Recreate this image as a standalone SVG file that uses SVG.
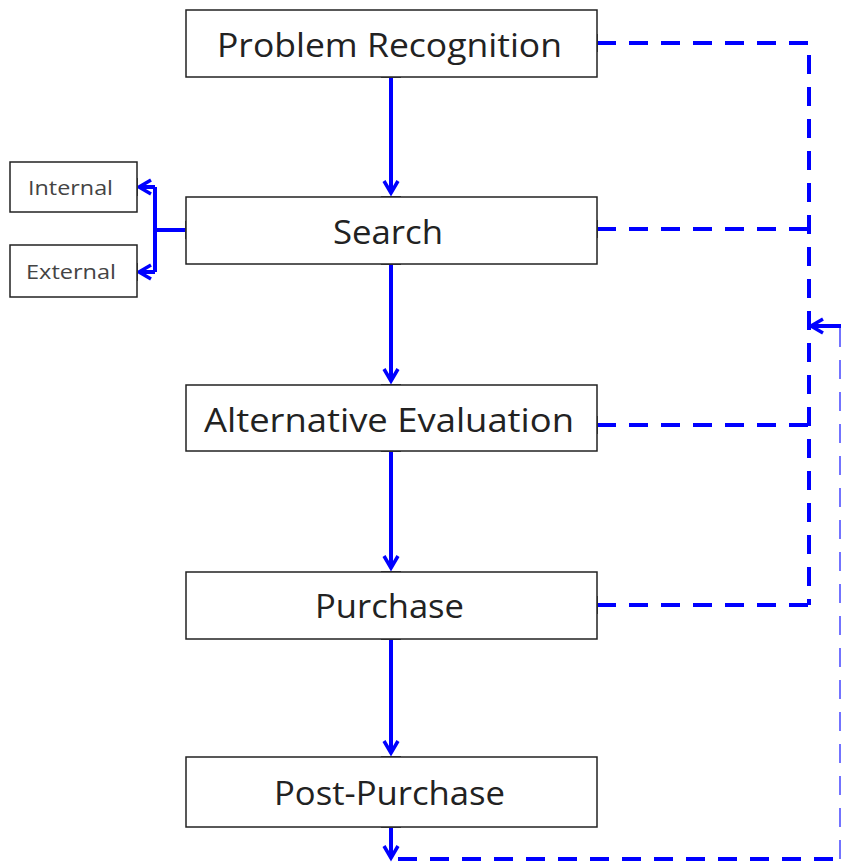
<svg xmlns="http://www.w3.org/2000/svg" width="841" height="864" viewBox="0 0 841 864">
<style>
.box{fill:#fff;stroke:#222;stroke-width:1.5}
.t{font-family:"Open Sans","Liberation Sans",sans-serif;font-size:32px;fill:#222}
.ts{font-family:"Open Sans","Liberation Sans",sans-serif;font-size:20px;fill:#444}
.c{fill:none;stroke:#0000ff;stroke-width:4}
.d{fill:none;stroke:#0000ff;stroke-width:4;stroke-dasharray:19 13}
.tick{stroke:#555;stroke-width:2}
</style>
<defs>
<marker id="ah" markerUnits="userSpaceOnUse" markerWidth="18" markerHeight="18" viewBox="0 0 18 18" refX="14" refY="9" orient="auto">
<path d="M2,2 L14,9 L2,16" fill="none" stroke="#0000ff" stroke-width="3.5"/>
</marker>
</defs>
<rect width="841" height="864" fill="#fff"/>
<g id="connectors">
<line class="c" x1="391" y1="77" x2="391" y2="193" marker-end="url(#ah)"/>
<line class="c" x1="391" y1="264" x2="391" y2="381" marker-end="url(#ah)"/>
<line class="c" x1="391" y1="451" x2="391" y2="568" marker-end="url(#ah)"/>
<line class="c" x1="391" y1="639" x2="391" y2="753" marker-end="url(#ah)"/>
<line class="c" x1="391" y1="827" x2="391" y2="858" marker-end="url(#ah)"/>
<path class="c" d="M186,230 L155,230 M155,187 L155,272"/>
<line class="c" x1="155" y1="187" x2="139" y2="187" marker-end="url(#ah)"/>
<line class="c" x1="155" y1="272" x2="139" y2="272" marker-end="url(#ah)"/>
<path class="d" d="M597,43 L809,43 L809,605"/>
<line class="d" x1="597" y1="229" x2="809" y2="229"/>
<line class="d" x1="597" y1="425" x2="809" y2="425"/>
<line class="d" x1="597" y1="605" x2="811" y2="605"/>
<line class="d" x1="398" y1="859" x2="841" y2="859"/>
<line class="d" x1="841" y1="859" x2="841" y2="326" stroke-opacity="0.55"/>
<line class="c" x1="841" y1="326" x2="811" y2="326" marker-end="url(#ah)"/>
<g class="tick">
<line x1="381" y1="77" x2="401" y2="77"/>
<line x1="381" y1="197" x2="401" y2="197"/>
<line x1="381" y1="264" x2="401" y2="264"/>
<line x1="381" y1="385" x2="401" y2="385"/>
<line x1="381" y1="451" x2="401" y2="451"/>
<line x1="381" y1="572" x2="401" y2="572"/>
<line x1="381" y1="639" x2="401" y2="639"/>
<line x1="381" y1="757" x2="401" y2="757"/>
<line x1="381" y1="827" x2="401" y2="827"/>
<line x1="597" y1="34" x2="597" y2="52"/>
<line x1="597" y1="220" x2="597" y2="238"/>
<line x1="597" y1="416" x2="597" y2="434"/>
<line x1="597" y1="596" x2="597" y2="614"/>
<line x1="186" y1="221" x2="186" y2="239"/>
<line x1="137" y1="178" x2="137" y2="196"/>
<line x1="137" y1="263" x2="137" y2="281"/>
</g>
</g>
<g id="problem-recognition">
<rect class="box" x="186" y="10" width="411" height="67"/>
<text class="t" x="217" y="57" textLength="345" lengthAdjust="spacingAndGlyphs">Problem Recognition</text>
</g>
<g id="search">
<rect class="box" x="186" y="197" width="411" height="67"/>
<text class="t" x="333" y="244" textLength="110" lengthAdjust="spacingAndGlyphs">Search</text>
</g>
<g id="alternative-evaluation">
<rect class="box" x="186" y="385" width="411" height="66"/>
<text class="t" x="204" y="432" textLength="370" lengthAdjust="spacingAndGlyphs">Alternative Evaluation</text>
</g>
<g id="purchase">
<rect class="box" x="186" y="572" width="411" height="67"/>
<text class="t" x="315" y="618" textLength="149" lengthAdjust="spacingAndGlyphs">Purchase</text>
</g>
<g id="post-purchase">
<rect class="box" x="186" y="757" width="411" height="70"/>
<text class="t" x="274" y="805" textLength="231" lengthAdjust="spacingAndGlyphs">Post-Purchase</text>
</g>
<g id="internal">
<rect class="box" x="10" y="162" width="127" height="50"/>
<text class="ts" x="28" y="195" textLength="85" lengthAdjust="spacingAndGlyphs">Internal</text>
</g>
<g id="external">
<rect class="box" x="10" y="245" width="127" height="52"/>
<text class="ts" x="26" y="279" textLength="90" lengthAdjust="spacingAndGlyphs">External</text>
</g>
</svg>
